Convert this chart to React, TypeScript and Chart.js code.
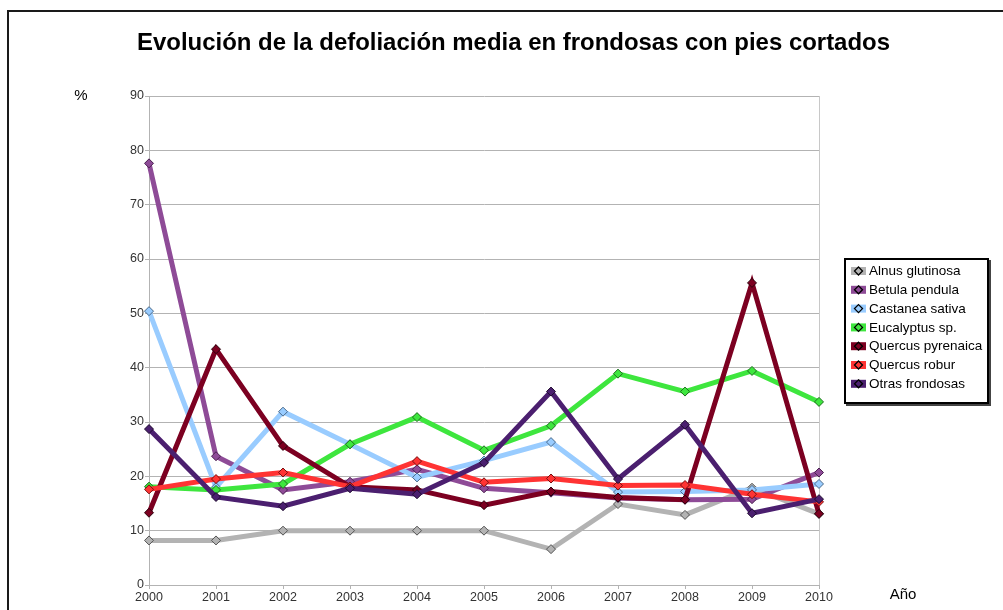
import { useEffect, useRef } from 'react';
import { Chart, registerables } from 'chart.js';

Chart.register(...registerables);

const years = ['2000', '2001', '2002', '2003', '2004', '2005', '2006', '2007', '2008', '2009', '2010'];
const yTicks = [0, 10, 20, 30, 40, 50, 60, 70, 80, 90];

const alnus = [8.2, 8.2, 10, 10, 10, 10, 6.6, 14.9, 12.9, 17.9, 13.1];
const betula = [77.6, 23.7, 17.5, 19, 21.3, 17.8, 17, 16, 15.7, 15.8, 20.7];
const castanea = [50.4, 18, 31.9, 25.9, 19.8, 22.9, 26.3, 17.1, 17.2, 17.5, 18.6];
const eucalyptus = [18.1, 17.5, 18.6, 25.9, 30.9, 24.8, 29.3, 38.9, 35.6, 39.4, 33.7];
const pyrenaica = [13.3, 43.4, 25.6, 18.1, 17.5, 14.7, 17.2, 16.1, 15.7, 55.6, 13.1];
const robur = [17.6, 19.5, 20.7, 18.1, 22.8, 18.9, 19.6, 18.3, 18.4, 16.7, 15.3];
const otras = [28.7, 16.2, 14.5, 17.8, 16.7, 22.5, 35.6, 19.5, 29.5, 13.2, 15.8];

const seriesLabels = [
  'Alnus glutinosa',
  'Betula pendula',
  'Castanea sativa',
  'Eucalyptus sp.',
  'Quercus pyrenaica',
  'Quercus robur',
  'Otras frondosas',
];
const seriesData = [alnus, betula, castanea, eucalyptus, pyrenaica, robur, otras];
const seriesColors = ['#b3b3b3', '#8e4b97', '#99ccff', '#3ee63e', '#7c0021', '#ff3333', '#4b1f6f'];
const markerBorders = ['#555555', '#4a2050', '#4a6a8a', '#1d6e1d', '#2a000b', '#7a1010', '#1e0b2e'];

const titleText = 'Evolución de la defoliación media en frondosas con pies cortados';
const yAxisTitle = '%';
const xAxisTitle = 'Año';

const FONT = '"Liberation Sans", Arial, sans-serif';

const decorPlugin = {
  id: 'decor',
  beforeDraw(chart: any) {
    const ctx = chart.ctx;
    ctx.save();
    ctx.fillStyle = '#ffffff';
    ctx.fillRect(0, 0, chart.width, chart.height);
    ctx.strokeStyle = '#1a1a1a';
    ctx.lineWidth = 2;
    ctx.beginPath();
    ctx.moveTo(8, chart.height + 5);
    ctx.lineTo(8, 11);
    ctx.lineTo(chart.width + 5, 11);
    ctx.stroke();
    ctx.restore();
  },
  beforeDatasetsDraw(chart: any) {
    const ctx = chart.ctx;
    const a = chart.chartArea;
    ctx.save();
    ctx.strokeStyle = '#c8c8c8';
    ctx.lineWidth = 1;
    ctx.beginPath();
    ctx.moveTo(Math.round(a.right) + 0.5, a.top);
    ctx.lineTo(Math.round(a.right) + 0.5, a.bottom);
    ctx.stroke();
    ctx.restore();
  },
  afterDraw(chart: any) {
    const ctx = chart.ctx;
    ctx.save();
    ctx.fillStyle = '#000';
    ctx.font = 'bold 24px ' + FONT;
    ctx.textBaseline = 'alphabetic';
    ctx.textAlign = 'left';
    const tw = ctx.measureText(titleText).width;
    const target = 753;
    ctx.save();
    ctx.translate(137, 50);
    ctx.scale(target / tw, 1);
    ctx.fillText(titleText, 0, 0);
    ctx.restore();

    ctx.font = '15px ' + FONT;
    ctx.textAlign = 'center';
    ctx.textBaseline = 'middle';
    ctx.fillText(yAxisTitle, 81, 96);
    ctx.fillText(xAxisTitle, 903, 595);

    const lx = 844, ly = 258, lw = 145, lh = 146;
    ctx.fillStyle = '#444';
    ctx.fillRect(lx + lw, ly + 2, 2, lh);
    ctx.fillRect(lx + 2, ly + lh, lw, 2);
    ctx.fillStyle = '#fff';
    ctx.fillRect(lx, ly, lw, lh);
    ctx.strokeStyle = '#000';
    ctx.lineWidth = 2;
    ctx.strokeRect(lx + 1, ly + 1, lw - 2, lh - 2);
    ctx.font = '13.5px ' + FONT;
    ctx.textAlign = 'left';
    ctx.textBaseline = 'middle';
    chart.data.datasets.forEach((ds: any, i: number) => {
      const cy = 271 + i * 18.8;
      ctx.fillStyle = ds.borderColor;
      ctx.fillRect(851, cy - 4, 15, 8);
      ctx.beginPath();
      ctx.moveTo(858.5, cy - 4);
      ctx.lineTo(862.5, cy);
      ctx.lineTo(858.5, cy + 4);
      ctx.lineTo(854.5, cy);
      ctx.closePath();
      ctx.fillStyle = ds.pointBackgroundColor;
      ctx.fill();
      ctx.strokeStyle = '#000';
      ctx.lineWidth = 1.3;
      ctx.stroke();
      ctx.fillStyle = '#000';
      ctx.fillText(ds.label, 869, cy + 0.5);
    });
    ctx.restore();
  },
};

export default function App() {
  const ref = useRef<HTMLCanvasElement | null>(null);
  useEffect(() => {
    if (!ref.current) return;
    const chart = new Chart(ref.current, {
      type: 'line',
      data: {
        labels: years,
        datasets: seriesData.map((d, i) => ({
          label: seriesLabels[i],
          data: d,
          borderColor: seriesColors[i],
          backgroundColor: seriesColors[i],
          borderWidth: 5,
          tension: 0,
          pointStyle: 'rectRot',
          pointRadius: 4.5,
          pointBorderWidth: 1,
          pointBackgroundColor: seriesColors[i],
          pointBorderColor: markerBorders[i],
          order: seriesData.length - i,
        })),
      },
      options: {
        responsive: false,
        animation: false,
        devicePixelRatio: 1,
        layout: { padding: { left: 0, right: 184, top: 96, bottom: 0 } },
        plugins: {
          legend: { display: false },
          title: { display: false },
          tooltip: { enabled: false },
        },
        scales: {
          x: {
            type: 'category',
            offset: false,
            grid: { drawOnChartArea: false, drawTicks: true, tickLength: 4, color: '#b3b3b3' },
            border: { color: '#b3b3b3' },
            ticks: { color: '#333', font: { family: FONT, size: 12.5 }, padding: 1, maxRotation: 0, autoSkip: false },
            afterFit: (s: any) => { s.height = 25; },
          },
          y: {
            min: 0,
            max: 90,
            afterBuildTicks: (s: any) => { s.ticks = yTicks.map((v) => ({ value: v })); },
            grid: { color: '#b3b3b3', tickLength: 4 },
            border: { color: '#b3b3b3' },
            ticks: { color: '#333', font: { family: FONT, size: 12.5 }, padding: 1 },
            afterFit: (s: any) => { s.width = 149; },
          },
        },
      },
      plugins: [decorPlugin],
    } as any);
    return () => chart.destroy();
  }, []);
  return (
    <div style={{ position: 'fixed', left: 0, top: 0, width: 1003, height: 610 }}>
      <canvas ref={ref} width={1003} height={610} style={{ width: 1003, height: 610, display: 'block' }} />
    </div>
  );
}
